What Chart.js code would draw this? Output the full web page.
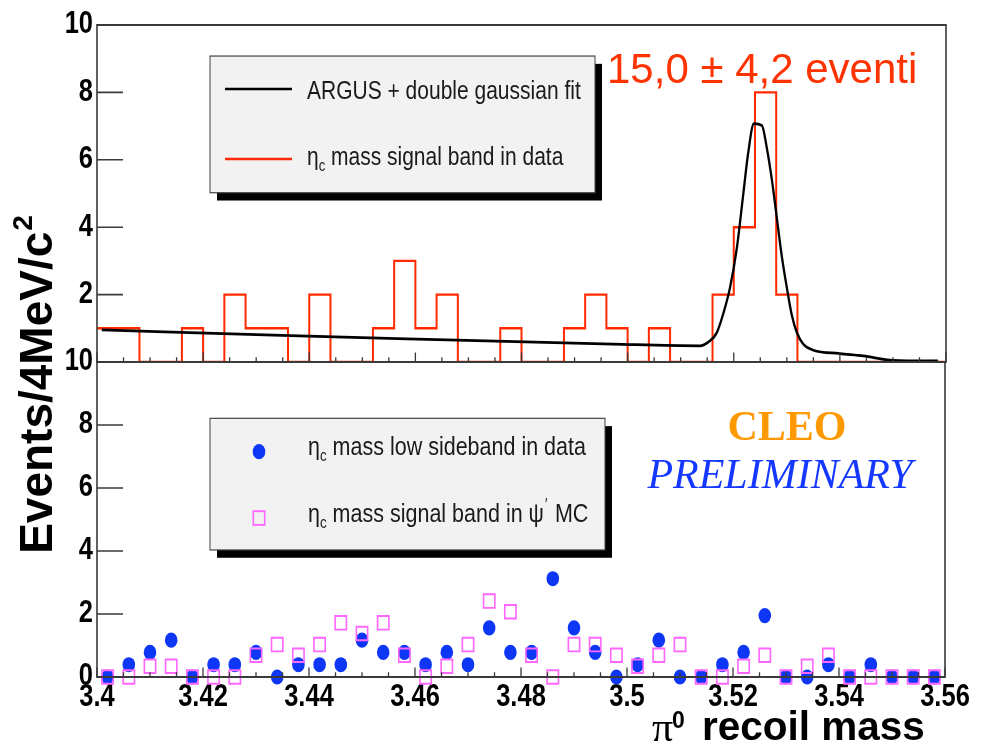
<!DOCTYPE html>
<html><head><meta charset="utf-8">
<script src="https://cdn.jsdelivr.net/npm/chart.js@4/dist/chart.umd.min.js"></script>
<style>
html,body{margin:0;padding:0;background:#fff;overflow:hidden}
#wrap{position:relative;width:983px;height:753px}
canvas{position:absolute;left:0;top:0}
</style>
</head><body>
<div id="wrap"><canvas id="bot" width="983" height="753"></canvas><canvas id="top" width="983" height="753"></canvas></div>
<script>
// ---------- data ----------
const binEdges = [3.400,3.404,3.408,3.412,3.416,3.420,3.424,3.428,3.432,3.436,3.440,3.444,3.448,3.452,3.456,3.460,3.464,3.468,3.472,3.476,3.480,3.484,3.488,3.492,3.496,3.500,3.504,3.508,3.512,3.516,3.520,3.524,3.528,3.532,3.536,3.540,3.544,3.548,3.552,3.556,3.560];
const binCenters = [3.402,3.406,3.410,3.414,3.418,3.422,3.426,3.430,3.434,3.438,3.442,3.446,3.450,3.454,3.458,3.462,3.466,3.470,3.474,3.478,3.482,3.486,3.490,3.494,3.498,3.502,3.506,3.510,3.514,3.518,3.522,3.526,3.530,3.534,3.538,3.542,3.546,3.550,3.554,3.558];
const signalCounts = [1,1,0,0,1,0,2,1,1,0,2,0,0,1,3,1,2,0,0,1,0,0,1,2,1,0,1,0,0,2,4,8,2,0,0,0,0,0,0,0,0];
const fitX = [3.4009,3.4364,3.4678,3.4972,3.5136,3.5155,3.5168,3.5180,3.5193,3.5206,3.5218,3.5227,3.5238,3.5253,3.5262,3.5272,3.5281,3.5290,3.5300,3.5309,3.5319,3.5331,3.5350,3.5400,3.5444,3.5500,3.5585];
const fitY = [0.95,0.78,0.65,0.53,0.48,0.63,0.87,1.42,2.21,3.40,4.99,6.18,7.07,7.02,6.38,5.39,4.30,3.20,2.21,1.42,0.87,0.53,0.35,0.25,0.18,0.05,0.03];
const sidebandData = [0,0.39,0.78,1.17,0,0.39,0.39,0.78,0,0.39,0.39,0.39,1.17,0.78,0.78,0.39,0.78,0.39,1.56,0.78,0.78,3.12,1.56,0.78,0,0.39,1.17,0,0,0.39,0.78,1.95,0,0,0.39,0,0.39,0,0,0];
const mcSignal = [0,0,0.34,0.34,0,0,0,0.69,1.03,0.69,1.03,1.72,1.38,1.72,0.69,0,0.34,1.03,2.41,2.07,0.69,0,1.03,1.03,0.69,0.34,0.69,1.03,0,0,0.34,0.69,0,0.34,0.69,0,0,0,0,0];
const xTickLabels = ['3.4','3.42','3.44','3.46','3.48','3.5','3.52','3.54','3.56'];
const yTickValues = [0,2,4,6,8,10];

// ---------- style ----------
const S = 1.2; // vertical stretch of the original ROOT canvas
const SANS = '"Liberation Sans", Arial, sans-serif';
const SERIF = '"Liberation Serif", "Times New Roman", serif';
Chart.defaults.font.family = SANS;

function drawFrame(chart, full) {
  const {ctx, chartArea: a} = chart; const xs = chart.scales.x, ys = chart.scales.y;
  ctx.save();
  ctx.strokeStyle = '#3a3a3a'; ctx.lineWidth = 1.6;
  ctx.beginPath();
  if (full) ctx.rect(a.left, a.top, a.right - a.left, a.bottom - a.top);
  else { ctx.moveTo(a.left, a.top); ctx.lineTo(a.left, a.bottom); ctx.lineTo(a.right, a.bottom); ctx.lineTo(a.right, a.top); }
  ctx.stroke();
  ctx.lineWidth = 1.3; ctx.beginPath();
  for (let k = 0; k <= 32; k++) {
    const px = xs.getPixelForValue(3.4 + k * 0.005);
    const len = k % 4 === 0 ? 8 : 4;
    ctx.moveTo(px, a.bottom); ctx.lineTo(px, a.bottom - len);
  }
  ys.ticks.forEach(t => { const py = ys.getPixelForValue(t.value); ctx.moveTo(a.left, py); ctx.lineTo(a.left + 26, py); });
  ctx.stroke();
  ctx.restore();
}

function legendBox(ctx, x0, y0, x1, y1) {
  ctx.fillStyle = '#000'; ctx.fillRect(x0 + 7, y0 + 6.5, x1 - x0, y1 - y0);
  ctx.fillStyle = '#f2f2f2'; ctx.fillRect(x0, y0, x1 - x0, y1 - y0);
  ctx.strokeStyle = '#444'; ctx.lineWidth = 1; ctx.strokeRect(x0, y0, x1 - x0, y1 - y0);
}
function etaText(ctx, x, y, size, rest) {
  ctx.fillStyle = '#1a1a1a'; ctx.textBaseline = 'alphabetic'; ctx.textAlign = 'left';
  ctx.font = size + 'px ' + SANS; ctx.fillText('η', x, y); let w = ctx.measureText('η').width;
  ctx.font = (size * 0.62) + 'px ' + SANS; ctx.fillText('c', x + w, y + size * 0.25); w += ctx.measureText('c').width;
  ctx.font = size + 'px ' + SANS; ctx.fillText(rest, x + w, y);
  return x + w + ctx.measureText(rest).width;
}

function drawLegendTop(ctx) {
  ctx.save();
  legendBox(ctx, 210, 46.7, 595, 160.6);
  ctx.lineWidth = 2.2; ctx.strokeStyle = '#000';
  ctx.beginPath(); ctx.moveTo(225, 74.2); ctx.lineTo(292, 74.2); ctx.stroke();
  ctx.lineWidth = 2; ctx.strokeStyle = '#ff2a00';
  ctx.beginPath(); ctx.moveTo(225, 132.5); ctx.lineTo(292, 132.5); ctx.stroke();
  ctx.fillStyle = '#1a1a1a'; ctx.font = '21px ' + SANS; ctx.textBaseline = 'alphabetic';
  ctx.fillText('ARGUS + double gaussian fit', 307, 82.7);
  etaText(ctx, 307, 137.5, 21, ' mass signal band in data');
  ctx.restore();
}
function drawLegendBot(ctx) {
  ctx.save();
  legendBox(ctx, 210, 348.6, 605, 458.3);
  ctx.fillStyle = '#0d37f5'; ctx.beginPath(); ctx.arc(259, 376.4, 6.3, 0, Math.PI * 2); ctx.fill();
  ctx.strokeStyle = '#ff66ff'; ctx.lineWidth = 1.6; ctx.strokeRect(259 - 5.7, 431.7 - 5.7, 11.4, 11.4);
  etaText(ctx, 308, 379.2, 21.5, ' mass low sideband in data');
  const xe = etaText(ctx, 308, 434.7, 21.5, ' mass signal band in ψ');
  ctx.font = '13px ' + SANS; ctx.fillText('′', xe + 1, 425);
  ctx.font = '21.5px ' + SANS; ctx.fillText(' MC', xe + 5, 434.7);
  ctx.restore();
}
function drawTopOverlay(ctx) {
  ctx.save();
  ctx.fillStyle = '#ff3300'; ctx.font = '42px ' + SANS; ctx.textBaseline = 'alphabetic'; ctx.textAlign = 'left';
  ctx.fillText('15,0 ± 4,2 eventi', 607, 83);
  ctx.restore();
}
function drawBotOverlay(ctx) {
  ctx.save();
  ctx.textBaseline = 'alphabetic'; ctx.textAlign = 'center';
  ctx.fillStyle = '#ff9900'; ctx.font = 'bold 42px ' + SERIF; ctx.fillText('CLEO', 787, 440);
  ctx.fillStyle = '#1438ff'; ctx.font = 'italic 42px ' + SERIF; ctx.fillText('PRELIMINARY', 780, 488);
  // x title
  ctx.textAlign = 'left'; ctx.fillStyle = '#000';
  ctx.font = '42px ' + SERIF; ctx.fillText('π', 652, 741);
  ctx.font = 'bold 23px ' + SANS; ctx.fillText('0', 672, 728);
  ctx.font = 'bold 40.5px ' + SANS; ctx.fillText('recoil mass', 702, 740);
  // y title
  ctx.translate(52, 385); ctx.rotate(-Math.PI / 2);
  ctx.font = 'bold 46px ' + SANS; const main = 'Events/4MeV/c'; const wm = ctx.measureText(main).width;
  ctx.font = 'bold 28px ' + SANS; const ws = ctx.measureText('2').width;
  const start = -(wm + ws) / 2;
  ctx.font = 'bold 46px ' + SANS; ctx.fillText(main, start, 0);
  ctx.font = 'bold 28px ' + SANS; ctx.fillText('2', start + wm + 1, -20);
  ctx.restore();
}

function rootPlugin(kind) {
  return {
    id: 'root_' + kind,
    beforeDraw(chart) { chart.ctx.save(); chart.ctx.scale(1, S); },
    afterDatasetsDraw(chart) { drawFrame(chart, kind === 'top'); },
    afterDraw(chart) {
      const ctx = chart.ctx;
      if (kind === 'top') drawLegendTop(ctx); else drawLegendBot(ctx);
      ctx.restore();
      if (kind === 'top') drawTopOverlay(ctx); else drawBotOverlay(ctx);
    }
  };
}

const yScale = (hideZero) => ({
  min: 0, max: 10,
  afterBuildTicks: s => { s.ticks = yTickValues.map(v => ({value: v})); },
  ticks: { padding: 4, color: '#000', font: {size: 25.5, weight: 'bold'}, callback: v => (hideZero && v === 0) ? '' : String(v) },
  grid: {display: false, drawTicks: false}, border: {display: false},
  afterFit: s => { s.width = 97; }
});

new Chart(document.getElementById('bot'), {
  type: 'scatter',
  data: { datasets: [
    { label: 'ηc mass signal band in ψ\' MC', data: binCenters.map((x, i) => ({x, y: mcSignal[i]})),
      pointStyle: 'rect', pointRadius: 8, borderColor: '#ff66ff', borderWidth: 1.6, backgroundColor: 'rgba(0,0,0,0)', clip: false, order: 0 },
    { label: 'ηc mass low sideband in data', data: binCenters.map((x, i) => ({x, y: sidebandData[i]})),
      pointStyle: 'circle', pointRadius: 6.3, borderWidth: 0, backgroundColor: '#0d37f5', clip: false, order: 1 }
  ]},
  options: {
    responsive: false, animation: false, events: [], devicePixelRatio: 1,
    layout: { padding: { left: 0, right: 38, top: 362 / S, bottom: 753 - 677 / S - 40 } },
    plugins: { legend: {display: false}, tooltip: {enabled: false} },
    scales: {
      x: { type: 'linear', min: 3.4, max: 3.56,
           ticks: { stepSize: 0.02, autoSkip: false, maxRotation: 0, padding: 2, color: '#000', font: {size: 25.5, weight: 'bold'},
                    callback: v => xTickLabels[Math.round((v - 3.4) / 0.02)] },
           grid: {display: false, drawTicks: false}, border: {display: false},
           afterFit: s => { s.height = 40; } },
      y: yScale(false)
    }
  },
  plugins: [rootPlugin('bot')]
});

new Chart(document.getElementById('top'), {
  type: 'line',
  data: { datasets: [
    { label: 'ARGUS + double gaussian fit', data: fitX.map((x, i) => ({x, y: fitY[i]})),
      borderColor: '#000', borderWidth: 2.3, pointRadius: 0, cubicInterpolationMode: 'monotone', fill: false, order: 0 },
    { label: 'ηc mass signal band in data', data: binEdges.map((x, i) => ({x, y: signalCounts[i]})),
      borderColor: '#ff2a00', borderWidth: 2, pointRadius: 0, stepped: true, fill: false, order: 1 }
  ]},
  options: {
    responsive: false, animation: false, events: [], devicePixelRatio: 1,
    layout: { padding: { left: 0, right: 37, top: 25 / S, bottom: 753 - 362 / S } },
    plugins: { legend: {display: false}, tooltip: {enabled: false} },
    scales: {
      x: { type: 'linear', min: 3.4, max: 3.56, display: false },
      y: yScale(true)
    }
  },
  plugins: [rootPlugin('top')]
});
</script>
</body></html>
